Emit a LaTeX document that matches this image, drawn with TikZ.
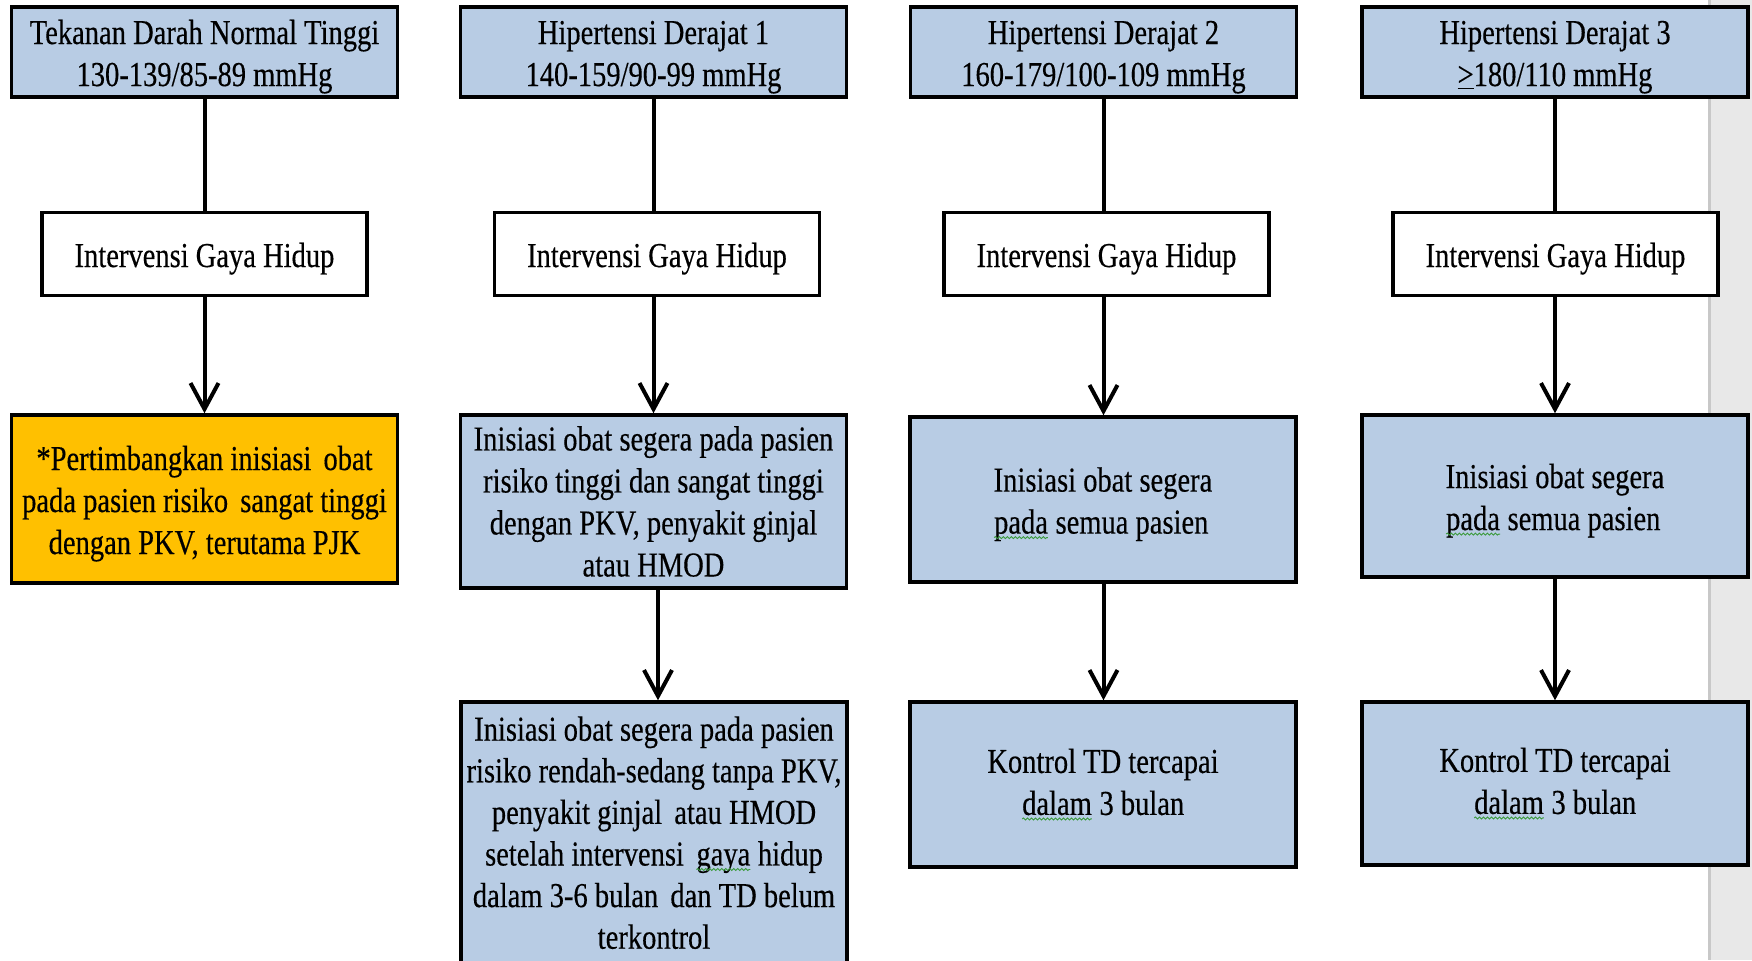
\documentclass[tikz,border=0pt]{standalone}
\usepackage{fontspec}
\setmainfont[FakeStretch=0.815, FakeBold=0.35]{Liberation Serif}
\usetikzlibrary{arrows.meta,decorations.pathmorphing}
\definecolor{boxblue}{HTML}{B8CCE4}
\definecolor{boxorange}{HTML}{FFC000}
\definecolor{barfill}{HTML}{E8E8E8}
\definecolor{barline}{HTML}{C8C8C8}
\definecolor{sqgreen}{HTML}{3A9A3A}
\newcommand\tp{\rule{0pt}{16.8pt}}
\newcommand\xs{\hspace{2.5pt}}
\newcommand\sqg[1]{\tikz[baseline=(sq.base), x=1pt, y=1pt]{\node[inner sep=0pt, outer sep=0pt,
    minimum width=0pt, minimum height=0pt, draw=none, fill=none, anchor=center] (sq) {#1};
  \draw[sqgreen, line width=0.45pt, decorate, decoration={snake, amplitude=0.5pt, segment length=2pt}]
    ([yshift=-2pt]sq.base west) -- ([yshift=-2pt]sq.base east);}}
\begin{document}
\begin{tikzpicture}[x=0.5pt,y=-0.5pt,
  base/.style={draw=black, line width=1.75pt, inner sep=0pt, align=center,
    font=\fontsize{17.5}{21}\selectfont},
  hdr/.style={base, fill=boxblue, minimum width=193pt, minimum height=45pt},
  intv/.style={base, fill=white, minimum width=162.5pt, minimum height=41.5pt},
  bluebox/.style={base, fill=boxblue, minimum width=193pt},
  orangebox/.style={base, fill=boxorange, minimum width=193pt},
  txt/.style={inner sep=0pt, align=center, font=\fontsize{17.5}{20.8}\selectfont},
  conn/.style={line width=2pt},
  arr/.style={conn, -{Straight Barb[length=13pt, width=14pt, line width=2pt]}}]
\useasboundingbox (0,0) rectangle (1752,960);
\clip (0,0) rectangle (1752,960);
\fill[white] (0,0) rectangle (1752,960);
\fill[barfill] (1708,0) rectangle (1752,960);
\draw[barline, line width=1.5pt] (1709.5,0) -- (1709.5,960);

% headers
\node[hdr] (h1) at (204.5,52) {\tp Tekanan Darah Normal Tinggi\\130-139/85-89 mmHg};
\node[hdr] (h2) at (653.5,52) {\tp Hipertensi Derajat 1\\140-159/90-99 mmHg};
\node[hdr] (h3) at (1103.5,52) {\tp Hipertensi Derajat 2\\160-179/100-109 mmHg};
\node[hdr] (h4) at (1555,52) {\tp Hipertensi Derajat 3\\\underline{>}180/110 mmHg};

% lifestyle
\node[intv] (i1) at (204.5,254) {\tp Intervensi Gaya Hidup};
\node[intv] (i2) at (657,254) {\tp Intervensi Gaya Hidup};
\node[intv] (i3) at (1106.5,254) {\tp Intervensi Gaya Hidup};
\node[intv] (i4) at (1555.5,254) {\tp Intervensi Gaya Hidup};

% row 3
\node[orangebox, minimum height=84pt] (o1) at (204.5,499)
  {\tp *Pertimbangkan inisiasi \xs obat\\pada pasien risiko \xs sangat tinggi\\dengan PKV, terutama PJK};
\node[bluebox, minimum height=86.5pt] (r2) at (653.5,501.5)
  {Inisiasi obat segera pada pasien\\risiko tinggi dan sangat tinggi\\dengan PKV, penyakit ginjal\\atau HMOD};
\node[bluebox, minimum height=82.5pt, align=left] (r3) at (1103,499.5)
  {\tp Inisiasi obat segera\\\sqg{pada} semua pasien};
\node[bluebox, minimum height=81pt, align=left] (r4) at (1555,496)
  {\tp Inisiasi obat segera\\\sqg{pada} semua pasien};

% row 4
\node[bluebox, minimum height=150pt] (b2) at (654,852) {};
\node[txt, anchor=north] (t2) at (654,716)
  {Inisiasi obat segera pada pasien\\risiko rendah-sedang tanpa PKV,\\penyakit ginjal \xs atau HMOD\\setelah intervensi \xs \sqg{gaya} hidup\\dalam 3-6 bulan \xs dan TD belum\\terkontrol};
\node[bluebox, minimum height=82.5pt] (b3) at (1103,784.5) {Kontrol TD tercapai\\\sqg{dalam} 3 bulan};
\node[bluebox, minimum height=81.5pt] (b4) at (1555,783.5) {Kontrol TD tercapai\\\sqg{dalam} 3 bulan};

% connectors
\draw[conn] (h1.south) -- (h1.south |- i1.north);
\draw[arr] (h1.south |- i1.south) -- (h1.south |- o1.north);

\draw[conn] (h2.south) -- (h2.south |- i2.north);
\draw[arr] (h2.south |- i2.south) -- (h2.south |- r2.north);
\draw[arr] ([xshift=2.25pt]r2.south) -- ([xshift=2.25pt]r2.south |- b2.north);

\draw[conn] (h3.south) -- (h3.south |- i3.north);
\draw[arr] (h3.south |- i3.south) -- (h3.south |- r3.north);
\draw[arr] (h3.south |- r3.south) -- (h3.south |- b3.north);

\draw[conn] (h4.south) -- (h4.south |- i4.north);
\draw[arr] (h4.south |- i4.south) -- (h4.south |- r4.north);
\draw[arr] (h4.south |- r4.south) -- (h4.south |- b4.north);
\end{tikzpicture}
\end{document}
